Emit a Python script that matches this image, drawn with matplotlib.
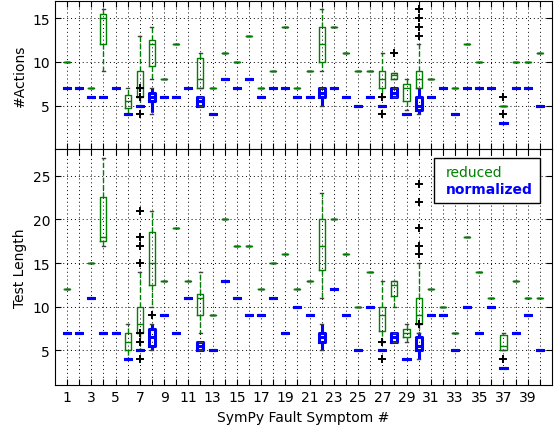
import matplotlib
matplotlib.use("Agg")
import matplotlib.pyplot as plt
from matplotlib.lines import Line2D

cats = list(range(1, 41))

# medians per symptom (flat boxes use the median for everything)
act_reduced = [10, 7, 7, 15, 7, 5.5, 7, 12, 8, 12, 7, 8, 7, 11, 10, 13, 7, 9, 14, 7,
               9, 12, 14, 11, 9, 9, 8, 8.5, 7, 8, 8, 7, 7, 12, 10, 7, 5, 10, 10, 11]
act_normalized = [7, 7, 6, 6, 7, 4, 5, 6, 6, 6, 7, 5.5, 4, 8, 7, 8, 6, 7, 7, 6,
                  6, 6.5, 7, 6, 5, 6, 5, 6.5, 4, 5, 6, 7, 4, 7, 7, 7, 3, 7, 7, 5]
len_reduced = [12, 7, 15, 18, 7, 6, 8, 15, 13, 19, 13, 11, 9, 20, 17, 17, 12, 15, 16, 12,
               13, 17, 20, 16, 10, 14, 9, 12.5, 7, 9, 12, 10, 7, 18, 14, 11, 5.5, 13, 11, 11]
len_normalized = [7, 7, 11, 7, 7, 4, 5, 6.5, 9, 7, 11, 5.5, 5, 13, 11, 9, 9, 11, 7, 10,
                  9, 6.5, 12, 9, 5, 10, 5, 6.5, 4, 5.5, 9, 9, 5, 10, 7, 10, 3, 7, 9, 5]

# (whisker low, q1, q3, whisker high) where the box is not flat
act_reduced_box = {4: (9, 12, 15.5, 16), 6: (4, 4.75, 6.25, 7), 7: (5, 6, 9, 13),
                   8: (8, 9.5, 12.5, 14), 12: (7, 7, 10.5, 11), 22: (9, 10, 14, 16),
                   27: (6, 7, 9, 11), 28: (8, 8, 8.75, 8.75), 29: (4.5, 5.5, 7.5, 8),
                   30: (6, 7, 9, 12)}
act_normalized_box = {8: (4, 5.5, 6.5, 7), 12: (5, 5, 6, 6), 22: (5, 6, 7, 7),
                      28: (6, 6, 7, 7), 30: (4, 4.5, 6, 7)}
len_reduced_box = {4: (17, 17.5, 22.5, 27), 6: (4, 5, 7, 8), 7: (5, 7, 10, 14),
                   8: (10, 12.5, 18.5, 21), 12: (7, 9, 11.5, 14), 22: (11, 14.25, 20, 23),
                   27: (6, 7.25, 10, 13), 28: (10, 11.25, 13, 13), 29: (6, 6.5, 7.5, 8),
                   30: (7, 8, 11, 15), 37: (5, 5, 6.75, 7)}
len_normalized_box = {8: (5, 5.5, 7.5, 8), 12: (5, 5, 6, 6), 22: (5, 6, 7, 8),
                      28: (6, 6, 7, 7), 30: (4, 5, 6.5, 7)}

act_reduced_fliers = {28: [11], 30: [13, 14, 15, 16], 37: [4, 6]}
act_normalized_fliers = {7: [4, 6, 7], 27: [4, 6]}
len_reduced_fliers = {7: [15, 17, 18, 21], 8: [9], 30: [16, 17, 19, 22, 24], 37: [4]}
len_normalized_fliers = {7: [4, 6, 7], 27: [4, 6], 30: [8]}


def make_stats(meds, boxes, fliers):
    stats = []
    for k, m in zip(cats, meds):
        lo, q1, q3, hi = boxes.get(k, (m, m, m, m))
        stats.append(dict(med=m, q1=q1, q3=q3, whislo=lo, whishi=hi,
                          fliers=fliers.get(k, [])))
    return stats


def draw(ax, stats, color, lw, z):
    ax.bxp(stats, positions=cats, widths=0.5, manage_ticks=False,
           boxprops=dict(color=color, linewidth=lw),
           whiskerprops=dict(color=color, linewidth=lw, linestyle="--"),
           capprops=dict(color="0.25", linewidth=1),
           medianprops=dict(color=color, linewidth=lw),
           flierprops=dict(marker="+", markeredgecolor="k", markersize=5.5,
                           markeredgewidth=1.4, linestyle="none"),
           zorder=z)


plt.rcParams["font.size"] = 10
fig = plt.figure(figsize=(5.57, 4.27), dpi=100)
gs = fig.add_gridspec(2, 1, height_ratios=[17, 27], hspace=0,
                      left=0.0987, right=0.991, top=0.996, bottom=0.095)
ax1 = fig.add_subplot(gs[0])
ax2 = fig.add_subplot(gs[1], sharex=ax1)

panels = [
    (ax1, act_reduced, act_reduced_box, act_reduced_fliers,
     act_normalized, act_normalized_box, act_normalized_fliers),
    (ax2, len_reduced, len_reduced_box, len_reduced_fliers,
     len_normalized, len_normalized_box, len_normalized_fliers),
]
for ax, rm, rb, rf, nm, nb, nf in panels:
    draw(ax, make_stats(rm, rb, rf), "green", 1.0, 3)
    draw(ax, make_stats(nm, nb, nf), "blue", 2.2, 4)
    ax.grid(True, linestyle=(0, (1, 3)), color="k", linewidth=0.7)
    ax.set_axisbelow(True)
    ax.tick_params(direction="in", top=True, right=True, length=4)

ax1.set_xlim(0, 41)
ax1.set_ylim(0, 17)
ax2.set_ylim(1, 28)
ax1.set_yticks([5, 10, 15])
ax2.set_yticks([5, 10, 15, 20, 25])
ax2.set_xticks(cats)
ax2.set_xticklabels([str(k) if k % 2 else "" for k in cats])
ax1.tick_params(labelbottom=False)

ax1.set_ylabel("#Actions")
ax2.set_ylabel("Test Length")
ax2.set_xlabel("SymPy Fault Symptom #")
fig.align_ylabels([ax1, ax2])

blank = [Line2D([], [], linestyle="none"), Line2D([], [], linestyle="none")]
leg = ax2.legend(blank, ["reduced", "normalized"], loc="upper right",
                 bbox_to_anchor=(0.976, 0.962), borderaxespad=0,
                 handlelength=0.4, handletextpad=0, borderpad=0.5,
                 labelspacing=0.2, fancybox=False, framealpha=1)
leg.get_frame().set_edgecolor("k")
leg.get_frame().set_linewidth(1)
leg.get_texts()[0].set_color("green")
leg.get_texts()[1].set_color("blue")
leg.get_texts()[1].set_fontweight("bold")

fig.savefig("out.png", dpi=100)
